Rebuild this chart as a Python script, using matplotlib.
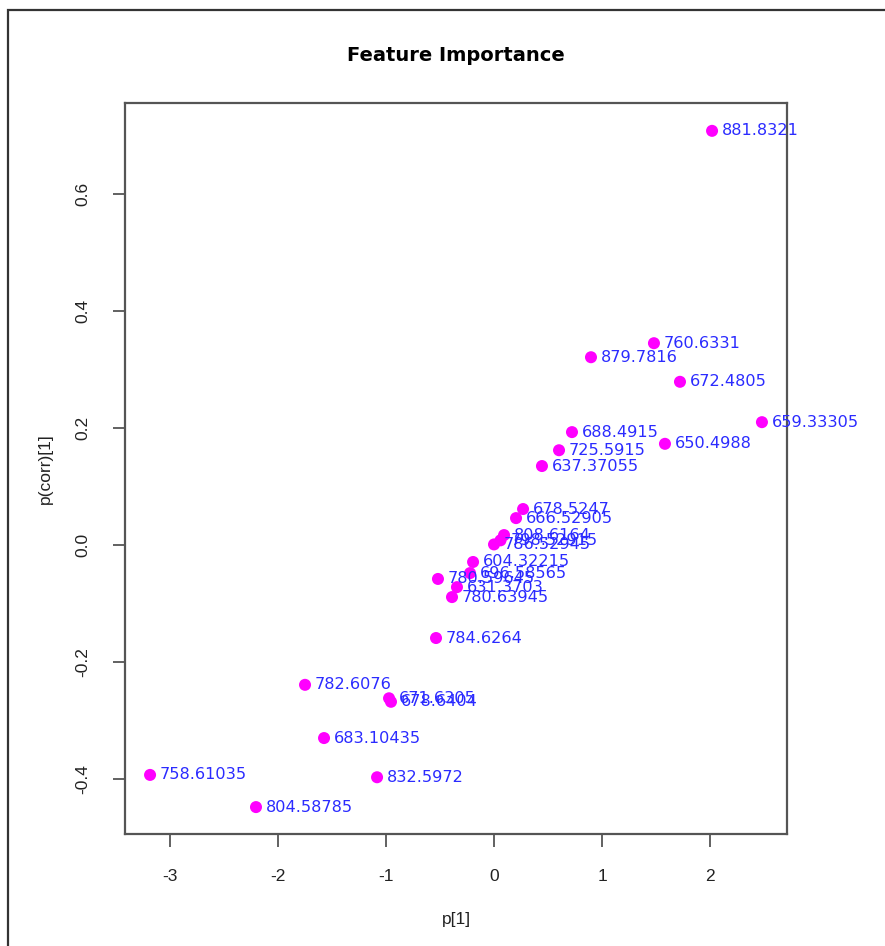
import matplotlib
matplotlib.use("Agg")
import matplotlib.pyplot as plt
from matplotlib.patches import Rectangle

# loadings: p[1] vs p(corr)[1], labelled by m/z feature
features = ["881.8321", "760.6331", "879.7816", "672.4805", "659.33305",
            "688.4915", "650.4988", "725.5915", "637.37055", "678.5247",
            "666.52905", "808.6164", "798.52915", "786.52945", "604.32215",
            "696.58565", "780.59645", "631.3703", "780.63945", "784.6264",
            "782.6076", "671.6305", "678.6404", "683.10435", "758.61035",
            "832.5972", "804.58785"]
p1 = [2.019, 1.481, 0.898, 1.722, 2.481,
      0.722, 1.583, 0.602, 0.444, 0.269,
      0.204, 0.093, 0.060, 0.000, -0.194,
      -0.222, -0.519, -0.343, -0.389, -0.537,
      -1.750, -0.972, -0.954, -1.574, -3.185,
      -1.083, -2.204]
pcorr = [0.708, 0.345, 0.321, 0.279, 0.210,
         0.193, 0.173, 0.162, 0.135, 0.0615,
         0.046, 0.017, 0.008, 0.001, -0.029,
         -0.048, -0.058, -0.072, -0.089, -0.159,
         -0.239, -0.262, -0.268, -0.330, -0.393,
         -0.397, -0.448]

xticks = [-3, -2, -1, 0, 1, 2]
yticks = [-0.4, -0.2, 0.0, 0.2, 0.4, 0.6]

plt.rcParams["font.family"] = ["Liberation Sans", "DejaVu Sans"]

fig = plt.figure(figsize=(8.85, 9.46), dpi=100)
# outer device frame
fig.patches.append(Rectangle((8 / 885, -0.1), 2.0, (946 - 10) / 946 + 0.1,
                             transform=fig.transFigure, fill=False,
                             edgecolor="#333333", lw=1.6))

ax = fig.add_axes([125 / 885, 112 / 946, 662 / 885, 731 / 946])
ax.scatter(p1, pcorr, s=75, color="#ff00ff", edgecolors="none", zorder=3)
for name, x, y in zip(features, p1, pcorr):
    ax.annotate(name, (x, y), xytext=(7, 0), textcoords="offset points",
                va="center", ha="left", color="#2b2bff", fontsize=11.6,
                family="DejaVu Sans", zorder=4)

ax.set_xlim(-3.417, 2.713)
ax.set_ylim(-0.494, 0.7556)
ax.set_xticks(xticks)
ax.set_xticklabels([str(t) for t in xticks])
ax.set_yticks(yticks)
ax.set_yticklabels([f"{t:.1f}" for t in yticks], rotation=90, va="center")
ax.tick_params(axis="both", direction="out", length=9, width=1.3,
               color="#555555", labelsize=12.5, labelcolor="#222222", pad=16)
for sp in ax.spines.values():
    sp.set_color("#555555")
    sp.set_linewidth(1.6)

ax.set_xlabel("p[1]", fontsize=12.5, color="#222222", labelpad=20)
ax.set_ylabel("p(corr)[1]", fontsize=12.5, color="#222222", labelpad=16)
ax.set_title("Feature Importance", fontsize=14, fontweight="bold",
             family="DejaVu Sans", pad=30)

fig.savefig("out.png", dpi=100)
